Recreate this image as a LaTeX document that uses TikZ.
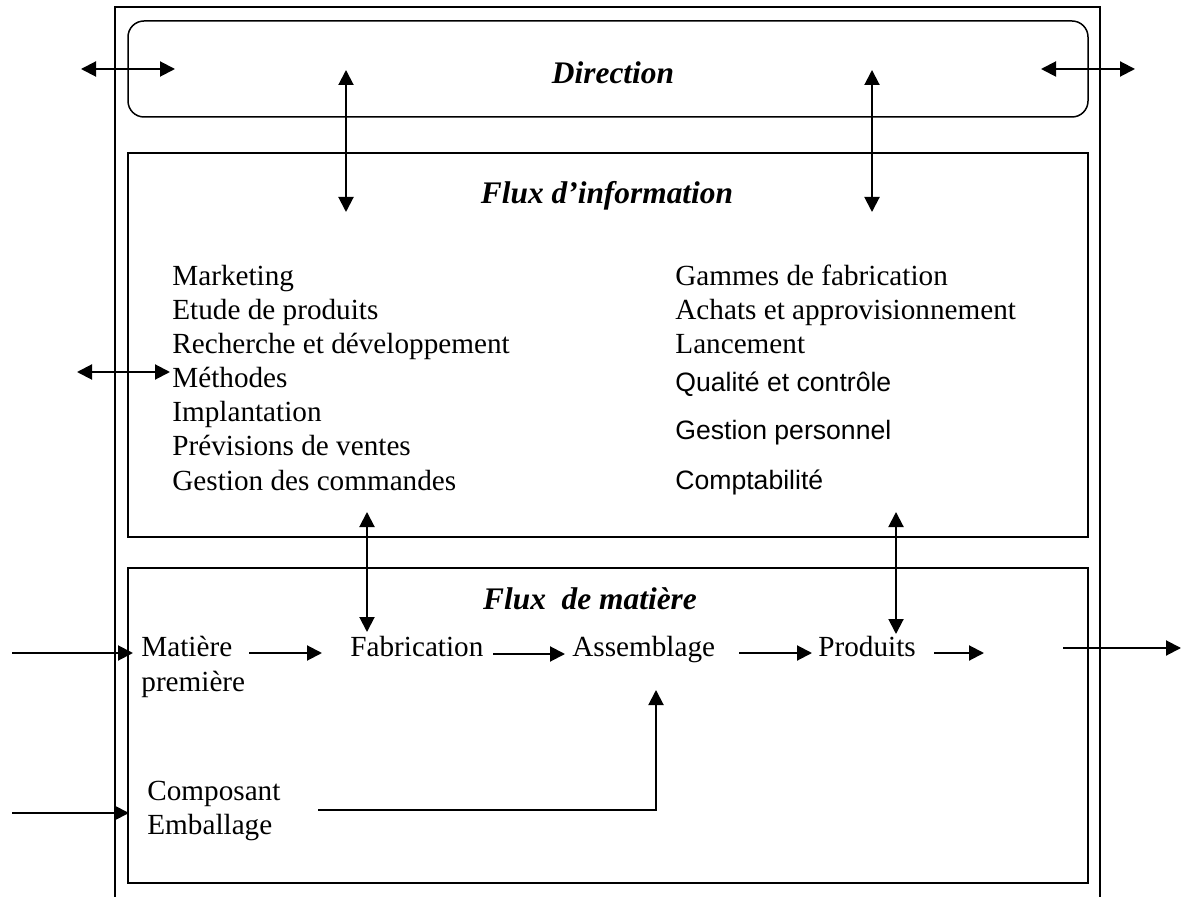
\documentclass[tikz,border=0pt]{standalone}
\usepackage{fontspec}
\setmainfont{Liberation Serif}
\newfontfamily\arialfont{Liberation Sans}
\usetikzlibrary{arrows.meta}

\tikzset{
  frameline/.style={line width=0.75pt},
  bodytext/.style={inner sep=0pt, anchor=base west, font=\fontsize{14.6}{17}\selectfont},
  sanstext/.style={inner sep=0pt, anchor=base west, font=\arialfont\fontsize{13.3}{16}\selectfont},
  titletext/.style={inner sep=0pt, anchor=base, font=\fontsize{15.7}{18}\selectfont\bfseries\itshape},
  flow/.style={line width=1pt, -{Triangle[length=7.5pt,width=7.5pt]}},
  twoway/.style={line width=1pt, {Triangle[length=7.5pt,width=7.5pt]}-{Triangle[length=7.5pt,width=7.5pt]}}
}

\begin{document}
\begin{tikzpicture}[x=0.5pt,y=-0.5pt]
\useasboundingbox (0,0) rectangle (1182,897);

% enterprise frame (open at the bottom) and its three panels
\draw[frameline] (115,897) -- (115,7) -- (1100,7) -- (1100,897);
\draw[frameline, rounded corners=8pt] (128,21) rectangle (1088,117);
\draw[frameline] (128,153) rectangle (1088,537);
\draw[frameline] (128,568) rectangle (1088,883);

% panel titles
\node[titletext] (dir)   at (613,84)  {Direction};
\node[titletext] (finfo) at (607,204) {Flux d’information};
\node[titletext] (fmat)  at (590,609) {Flux\ \ de matière};

% information functions, left column
\node[bodytext] (mkt)  at (172,286) {Marketing};
\node[bodytext] (etu)  at (172,320) {Etude de produits};
\node[bodytext] (rd)   at (172,354) {Recherche et développement};
\node[bodytext] (meth) at (172,388) {Méthodes};
\node[bodytext] (impl) at (172,422) {Implantation};
\node[bodytext] (prev) at (172,456) {Prévisions de ventes};
\node[bodytext] (gcom) at (172,490) {Gestion des commandes};

% information functions, right column
\node[bodytext] (gam)  at (675,286) {Gammes de fabrication};
\node[bodytext] (ach)  at (675,320) {Achats et approvisionnement};
\node[bodytext] (lanc) at (675,354) {Lancement};
\node[sanstext] (qual) at (675,392) {Qualité et contrôle};
\node[sanstext] (gpers) at (675,440) {Gestion personnel};
\node[sanstext] (compt) at (675,489) {Comptabilité};

% material flow
\node[bodytext] (mat)  at (141,656) {Matière};
\node[bodytext] (prem) at (141,691) {première};
\node[bodytext] (fab)  at (350,656) {Fabrication};
\node[bodytext] (asm)  at (572,656) {Assemblage};
\node[bodytext] (prod) at (818,656) {Produits};
\node[bodytext] (comp) at (147,800) {Composant};
\node[bodytext] (emb)  at (147,834) {Emballage};

% connector end points
\coordinate (dirLa) at (81,69);    \coordinate (dirLb) at (175,69);
\coordinate (dirRa) at (1041,69);  \coordinate (dirRb) at (1135,69);
\coordinate (vLa) at (346,70);     \coordinate (vLb) at (346,212);
\coordinate (vRa) at (872,70);     \coordinate (vRb) at (872,212);
\coordinate (mLa) at (77,372);     \coordinate (mLb) at (170,372);
\coordinate (wLa) at (367,512);    \coordinate (wLb) at (367,632);
\coordinate (wRa) at (896,512);    \coordinate (wRb) at (896,634);
\coordinate (inA) at (12,653);     \coordinate (inB) at (133,653);
\coordinate (mfA) at (249,653);    \coordinate (mfB) at (322,653);
\coordinate (faA) at (493,654);    \coordinate (faB) at (565,654);
\coordinate (apA) at (739,653);    \coordinate (apB) at (812,653);
\coordinate (poA) at (934,653);    \coordinate (poB) at (984,653);
\coordinate (outA) at (1063,648);  \coordinate (outB) at (1181,648);
\coordinate (in2A) at (12,813);    \coordinate (in2B) at (129,813);
\coordinate (ceA) at (318,810);    \coordinate (ceK) at (656,810);
\coordinate (ceB) at (656,690);

% two-way exchanges
\draw[twoway] (dirLa) -- (dirLb);
\draw[twoway] (dirRa) -- (dirRb);
\draw[twoway] (vLa) -- (vLb);
\draw[twoway] (vRa) -- (vRb);
\draw[twoway] (mLa) -- (mLb);
\draw[twoway] (wLa) -- (wLb);
\draw[twoway] (wRa) -- (wRb);

% one-way material flow
\draw[flow] (inA) -- (inB);
\draw[flow] (mfA) -- (mfB);
\draw[flow] (faA) -- (faB);
\draw[flow] (apA) -- (apB);
\draw[flow] (poA) -- (poB);
\draw[flow] (outA) -- (outB);
\draw[flow] (in2A) -- (in2B);
\draw[flow] (ceA) -- (ceK) -- (ceB);
\end{tikzpicture}
\end{document}
